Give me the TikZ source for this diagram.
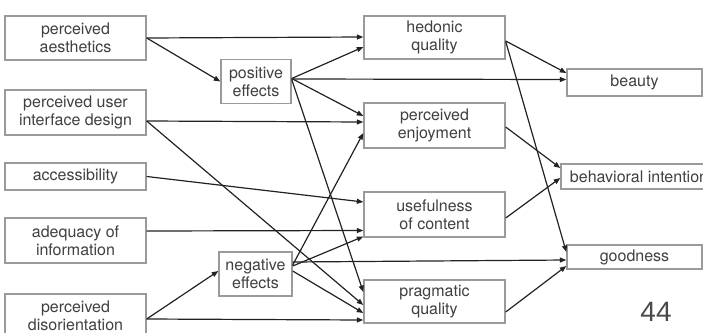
\documentclass[tikz,border=0pt]{standalone}
\usepackage{fontspec}
\setmainfont{TeX Gyre Heros}
\newfontfamily\pagenumfont{Liberation Sans}
\usetikzlibrary{arrows.meta,calc}
\definecolor{boxline}{HTML}{9A9A9A}
\definecolor{boxtext}{HTML}{404040}
\definecolor{arrowline}{HTML}{222222}
\definecolor{pagenumtext}{HTML}{4A4A4A}
\tikzset{
  box/.style={draw=boxline, line width=1.4pt, fill=white, text=boxtext,
    align=center, inner sep=0pt, font=\fontsize{16}{18}\selectfont},
  leftbox/.style={box, minimum width=141pt},
  midbox/.style={box, minimum width=141pt},
  effbox/.style={box, minimum height=44pt},
  rightbox/.style={box, minimum width=135pt},
  arr/.style={draw=arrowline, line width=1.2pt,
    -{Triangle[length=6.5pt,width=5pt]}},
}
\begin{document}
\begin{tikzpicture}[x=1pt,y=-1pt]
\useasboundingbox (0,0) rectangle (703,332);
\clip (0,0) rectangle (703,332);

% input constructs
\node[leftbox, minimum height=44pt] (aes) at (75.5,38) {perceived\\aesthetics};
\node[leftbox, minimum height=45pt] (ui)  at (75.5,112.5) {perceived user\\interface design};
\node[leftbox, minimum height=27pt] (acc) at (75.5,176.5) {accessibility};
\node[leftbox, minimum height=45pt] (adq) at (75.5,240.5) {adequacy of\\information};
\node[leftbox, minimum height=44pt] (dis) at (75.5,316) {perceived\\disorientation};

% emotional effects
\node[effbox, minimum width=70pt] (pos) at (256,81.5) {positive\\effects};
\node[effbox, minimum width=73pt] (neg) at (255.5,274) {negative\\effects};

% quality perceptions
\node[midbox, minimum height=43pt] (hed)  at (434.5,37.5)  {hedonic\\quality};
\node[midbox, minimum height=45pt] (enj)  at (434.5,125.5) {perceived\\enjoyment};
\node[midbox, minimum height=45pt] (use)  at (434.5,214.5) {usefulness\\of content};
\node[midbox, minimum height=43pt] (prag) at (434.5,301.5) {pragmatic\\quality};

% outcomes
\node[rightbox, minimum height=27pt] (beauty) at (634.5,82.5) {beauty};
\node[rightbox, minimum height=25pt] (beh)    at (634.5,176.5) {\hspace*{9pt}behavioral intention};
\node[rightbox, minimum height=24pt] (good)   at (634.5,257) {goodness};

% paths from the input constructs
\draw[arr] (aes.east) -- ($(hed.west)+(0,-0.5)$);
\draw[arr] (aes.east) -- (pos.west);
\draw[arr] ($(ui.east)+(0,8.5)$) -- ($(enj.west)+(0,-3.5)$);
\draw[arr] ($(ui.east)+(0,8.5)$) -- ($(prag.west)+(0,3.5)$);
\draw[arr] (acc.east) -- ($(use.west)+(0,-12.5)$);
\draw[arr] ($(adq.east)+(0,-9.5)$) -- ($(use.west)+(0,16)$);
\draw[arr] ($(dis.east)+(0,3)$) -- ($(neg.west)+(0,-3)$);
\draw[arr] ($(dis.east)+(0,3)$) -- ($(prag.west)+(0,18.5)$);

% paths from positive effects
\draw[arr] ($(pos.east)+(0,-3)$) -- ($(hed.west)+(0,9.5)$);
\draw[arr] ($(pos.east)+(0,-2.5)$) -- ($(beauty.west)+(0,-3)$);
\draw[arr] ($(pos.east)+(0,-3)$) -- ($(enj.west)+(0,-9.5)$);
\draw[arr] ($(pos.east)+(0,-2)$) -- ($(prag.west)+(0,-9.5)$);

% paths from negative effects
\draw[arr] ($(neg.east)+(0,-9)$) -- ($(enj.west)+(0,7.5)$);
\draw[arr] ($(neg.east)+(0,-8)$) -- ($(use.west)+(0,22)$);
\draw[arr] ($(neg.east)+(0,-12)$) -- ($(good.west)+(0,3)$);
\draw[arr] ($(neg.east)+(0,-3)$) -- ($(prag.west)+(0,11.5)$);

% paths to the outcomes
\draw[arr] ($(hed.east)+(0,3.5)$) -- ($(beauty.west)+(0,-9.5)$);
\draw[arr] ($(hed.east)+(0,4)$) -- ($(good.west)+(0,-5)$);
\draw[arr] ($(enj.east)+(0,1.5)$) -- ($(beh.west)+(0,-8.5)$);
\draw[arr] ($(use.east)+(0,3.5)$) -- ($(beh.west)+(0,1.5)$);
\draw[arr] ($(prag.east)+(0,10.5)$) -- ($(good.west)+(0,9)$);

% page number
\node[text=pagenumtext, font=\pagenumfont\fontsize{28}{28}\selectfont, inner sep=0pt]
  (pagenum) at (656,312) {44};
\end{tikzpicture}
\end{document}
